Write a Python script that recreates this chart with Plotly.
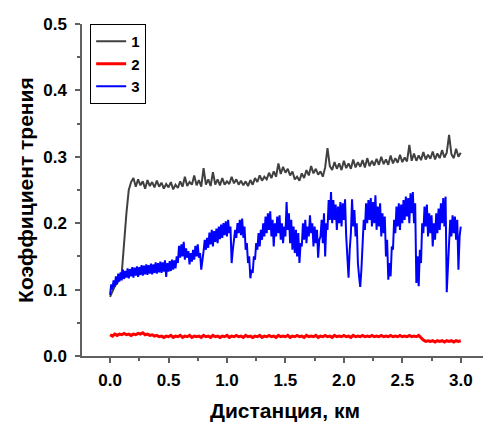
import plotly.graph_objects as go

# Sampling grids of the distance axis (km)
distance_km = [round(i * 0.02, 2) for i in range(151)]
distance_fine_km = [round(i * 0.01, 2) for i in range(301)]

# Series 1 (dark gray) friction coefficient, every 0.02 km
friction_1 = [
    0.089, 0.098, 0.105, 0.110, 0.115, 0.125, 0.175, 0.215, 0.250, 0.262,
    0.268, 0.255, 0.266, 0.257, 0.263, 0.252, 0.265, 0.256, 0.262, 0.254,
    0.264, 0.255, 0.261, 0.252, 0.259, 0.254, 0.262, 0.251, 0.258, 0.253,
    0.263, 0.255, 0.270, 0.256, 0.262, 0.258, 0.272, 0.257, 0.265, 0.255,
    0.283, 0.258, 0.266, 0.256, 0.277, 0.258, 0.266, 0.257, 0.268, 0.258,
    0.263, 0.259, 0.270, 0.260, 0.266, 0.258, 0.264, 0.257, 0.263, 0.256,
    0.265, 0.258, 0.268, 0.262, 0.272, 0.264, 0.270, 0.266, 0.276, 0.268,
    0.278, 0.270, 0.290, 0.274, 0.285, 0.276, 0.282, 0.272, 0.278, 0.266,
    0.270, 0.264, 0.275, 0.268, 0.280, 0.272, 0.286, 0.275, 0.282, 0.273,
    0.278, 0.270, 0.284, 0.313, 0.286, 0.280, 0.292, 0.282, 0.290, 0.280,
    0.294, 0.283, 0.290, 0.282, 0.296, 0.284, 0.292, 0.285, 0.295, 0.284,
    0.298, 0.286, 0.294, 0.287, 0.297, 0.288, 0.300, 0.289, 0.296, 0.288,
    0.302, 0.290, 0.298, 0.291, 0.303, 0.292, 0.299, 0.293, 0.318, 0.294,
    0.305, 0.294, 0.302, 0.295, 0.307, 0.296, 0.303, 0.297, 0.308, 0.296,
    0.305, 0.298, 0.310, 0.299, 0.306, 0.333, 0.304, 0.298, 0.312, 0.300,
    0.306,
]

# Series 2 (red) friction coefficient, every 0.02 km
friction_2 = [
    0.032, 0.030, 0.033, 0.031, 0.033, 0.032, 0.034, 0.032, 0.033, 0.031,
    0.033, 0.032, 0.034, 0.033, 0.035, 0.032, 0.033, 0.031, 0.032, 0.030,
    0.031, 0.029, 0.030, 0.028, 0.030, 0.029, 0.031, 0.028, 0.030, 0.029,
    0.031, 0.028, 0.030, 0.029, 0.031, 0.028, 0.030, 0.029, 0.030, 0.028,
    0.031, 0.029, 0.030, 0.028, 0.031, 0.029, 0.030, 0.028, 0.030, 0.029,
    0.031, 0.028, 0.030, 0.029, 0.031, 0.029, 0.030, 0.028, 0.031, 0.029,
    0.030, 0.028, 0.030, 0.029, 0.031, 0.028, 0.030, 0.029, 0.031, 0.029,
    0.030, 0.028, 0.031, 0.029, 0.030, 0.029, 0.031, 0.028, 0.030, 0.029,
    0.031, 0.029, 0.030, 0.028, 0.031, 0.029, 0.030, 0.029, 0.031, 0.028,
    0.030, 0.029, 0.031, 0.029, 0.030, 0.028, 0.031, 0.029, 0.030, 0.029,
    0.031, 0.029, 0.030, 0.028, 0.031, 0.029, 0.030, 0.029, 0.031, 0.029,
    0.030, 0.029, 0.031, 0.029, 0.030, 0.029, 0.031, 0.029, 0.030, 0.029,
    0.031, 0.029, 0.030, 0.029, 0.031, 0.029, 0.030, 0.029, 0.031, 0.029,
    0.030, 0.029, 0.031, 0.027, 0.024, 0.022, 0.023, 0.022, 0.023, 0.021,
    0.023, 0.022, 0.023, 0.021, 0.023, 0.022, 0.023, 0.021, 0.023, 0.022,
    0.023,
]

# Series 3 (blue) friction coefficient, every 0.01 km
friction_3 = [
    0.092, 0.108, 0.100, 0.114, 0.104, 0.120, 0.108, 0.124, 0.112, 0.126,
    0.114, 0.130, 0.116, 0.128, 0.118, 0.132, 0.117, 0.131, 0.120, 0.134,
    0.118, 0.133, 0.121, 0.135, 0.119, 0.134, 0.122, 0.137, 0.121, 0.136,
    0.123, 0.138, 0.122, 0.137, 0.124, 0.139, 0.123, 0.138, 0.125, 0.141,
    0.124, 0.140, 0.126, 0.142, 0.125, 0.141, 0.127, 0.144, 0.119, 0.140,
    0.127, 0.143, 0.128, 0.145, 0.130, 0.144, 0.132, 0.150, 0.140, 0.166,
    0.148, 0.168, 0.150, 0.172, 0.145, 0.162, 0.148, 0.158, 0.138, 0.155,
    0.142, 0.160, 0.145, 0.166, 0.150, 0.168, 0.148, 0.155, 0.130, 0.150,
    0.158, 0.175, 0.160, 0.178, 0.163, 0.186, 0.168, 0.190, 0.165, 0.188,
    0.172, 0.192, 0.170, 0.195, 0.176, 0.198, 0.178, 0.200, 0.182, 0.203,
    0.180, 0.205, 0.185, 0.195, 0.140, 0.160, 0.172, 0.190, 0.178, 0.200,
    0.185, 0.205, 0.182, 0.207, 0.178, 0.195, 0.160, 0.170, 0.140, 0.150,
    0.117, 0.130, 0.125, 0.150, 0.145, 0.170, 0.160, 0.185, 0.165, 0.190,
    0.175, 0.200, 0.180, 0.210, 0.185, 0.215, 0.190, 0.218, 0.180, 0.205,
    0.165, 0.200, 0.180, 0.210, 0.185, 0.212, 0.175, 0.200, 0.170, 0.195,
    0.180, 0.232, 0.190, 0.215, 0.170, 0.205, 0.160, 0.195, 0.155, 0.190,
    0.150, 0.185, 0.140, 0.170, 0.165, 0.200, 0.175, 0.205, 0.170, 0.195,
    0.180, 0.212, 0.185, 0.200, 0.165, 0.195, 0.170, 0.190, 0.148, 0.175,
    0.180, 0.205, 0.170, 0.215, 0.150, 0.200, 0.190, 0.235, 0.205, 0.247,
    0.200, 0.235, 0.205, 0.228, 0.190, 0.225, 0.200, 0.232, 0.195, 0.230,
    0.205, 0.236, 0.180, 0.150, 0.118, 0.160, 0.185, 0.236, 0.195, 0.220,
    0.180, 0.200, 0.140, 0.120, 0.104, 0.130, 0.160, 0.205, 0.190, 0.230,
    0.200, 0.235, 0.205, 0.238, 0.195, 0.232, 0.200, 0.242, 0.190, 0.225,
    0.195, 0.230, 0.180, 0.215, 0.185, 0.210, 0.150, 0.175, 0.115, 0.140,
    0.120, 0.165, 0.160, 0.205, 0.185, 0.225, 0.195, 0.230, 0.190, 0.228,
    0.200, 0.235, 0.205, 0.240, 0.210, 0.238, 0.200, 0.245, 0.215, 0.247,
    0.200, 0.230, 0.110, 0.150, 0.105, 0.160, 0.140, 0.200, 0.185, 0.225,
    0.195, 0.228, 0.180, 0.215, 0.185, 0.212, 0.165, 0.200, 0.175, 0.215,
    0.185, 0.222, 0.190, 0.230, 0.200, 0.238, 0.195, 0.240, 0.096, 0.150,
    0.170, 0.205, 0.180, 0.212, 0.185, 0.210, 0.175, 0.205, 0.130, 0.180,
    0.195,
]

series_names = ["1", "2", "3"]
series_x = [distance_km, distance_km, distance_fine_km]
series_y = [friction_1, friction_2, friction_3]
series_colors = ["#404040", "#ff0000", "#0000ff"]
series_widths = [2, 3, 2]

x_tick_vals = [0.0, 0.5, 1.0, 1.5, 2.0, 2.5, 3.0]
x_tick_text = ["0.0", "0.5", "1.0", "1.5", "2.0", "2.5", "3.0"]
y_tick_vals = [0.0, 0.1, 0.2, 0.3, 0.4, 0.5]
y_tick_text = ["0.0", "0.1", "0.2", "0.3", "0.4", "0.5"]
x_title = "Дистанция, км"
y_title = "Коэффициент трения"

fig = go.Figure()
for name, xs, ys, color, w in zip(series_names, series_x, series_y,
                                  series_colors, series_widths):
    fig.add_trace(go.Scatter(x=xs, y=ys, mode="lines", name=name,
                             line=dict(color=color, width=w)))

axis_color = "#606060"
fam = "Liberation Sans, Arial"
tick_font = dict(family=fam, size=17, color="black", weight="bold")
title_font = dict(family=fam, size=21, color="black", weight="bold")

# The page body has an 8px default margin, so the figure is 8px smaller
fig.update_layout(
    width=483, height=417,
    margin=dict(l=74, r=1, t=16, b=69),
    plot_bgcolor="white", paper_bgcolor="white",
    showlegend=True,
    legend=dict(x=0.02, y=1.0, xanchor="left", yanchor="top",
                bordercolor="black", borderwidth=1, bgcolor="white",
                font=dict(family=fam, size=15, color="black", weight="bold"),
                tracegroupgap=0, itemwidth=30),
    xaxis=dict(
        range=[-0.24, 3.25], showgrid=False, zeroline=False, automargin=False,
        showline=True, linecolor=axis_color, linewidth=1.5,
        ticks="outside", ticklen=5, tickwidth=1.5, tickcolor=axis_color,
        tickvals=x_tick_vals, ticktext=x_tick_text, tickfont=tick_font,
        ticklabelstandoff=3,
        minor=dict(ticks="outside", ticklen=3, tickwidth=1.5, tickcolor=axis_color,
                   dtick=0.25, tick0=0, showgrid=False),
    ),
    yaxis=dict(
        range=[0, 0.5], showgrid=False, zeroline=False, automargin=False,
        showline=True, linecolor=axis_color, linewidth=1.5,
        ticks="outside", ticklen=5, tickwidth=1.5, tickcolor=axis_color,
        tickvals=y_tick_vals, ticktext=y_tick_text, tickfont=tick_font,
        ticklabelstandoff=5,
        minor=dict(ticks="outside", ticklen=3, tickwidth=1.5, tickcolor=axis_color,
                   dtick=0.05, tick0=0, showgrid=False),
    ),
    annotations=[
        dict(text=x_title, xref="paper", yref="paper", x=0.4975, y=-0.163,
             xanchor="center", yanchor="middle", showarrow=False, font=title_font),
        dict(text=y_title, xref="paper", yref="paper", x=-0.14, y=0.5,
             xanchor="center", yanchor="middle", showarrow=False, font=title_font,
             textangle=-90),
    ],
)

fig.write_html("out.html")
